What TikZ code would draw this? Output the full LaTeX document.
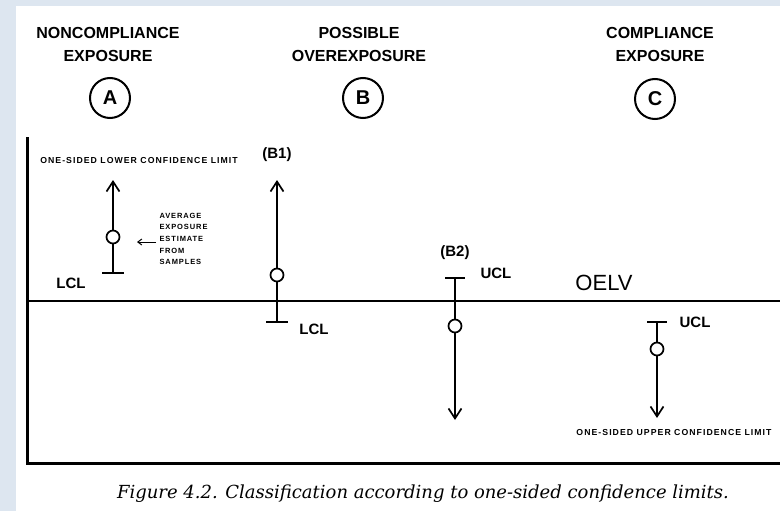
\documentclass[tikz,border=0pt]{standalone}
\usepackage{fontspec}
\newfontfamily\labfont{Liberation Sans}
\newfontfamily\notefont[LetterSpace=12]{Liberation Sans}
\newfontfamily\capfont{DejaVu Serif}
\usetikzlibrary{arrows.meta}
\definecolor{pageblue}{RGB}{221,230,240}

\begin{document}
\begin{tikzpicture}[x=1pt, y=-1pt,
  head/.style={font=\labfont\bfseries\fontsize{16}{23}\selectfont, align=center},
  tag/.style={circle, draw, line width=2pt, minimum size=40pt, inner sep=0pt,
    font=\labfont\bfseries\fontsize{20}{20}\selectfont},
  est/.style={circle, draw, line width=1.7pt, minimum size=13pt, inner sep=0pt, fill=white},
  lim/.style={font=\labfont\bfseries\fontsize{15}{15}\selectfont},
  note/.style={font=\notefont\bfseries\fontsize{7.5}{11.7}\selectfont, align=left},
  side/.style={font=\notefont\bfseries\fontsize{8.7}{10}\selectfont},
  ci/.style={line width=1.7pt},
  arr/.style={ci, -{Straight Barb[length=10pt, width=13pt, line width=1.7pt]}},
  bar/.style={line width=1.9pt}
]
% page and frame
\fill[pageblue] (0,0) rectangle (780,511);
\fill[white] (16,6) rectangle (780,511);
\useasboundingbox (0,0) rectangle (780,511);

% headings
\node[head] (headA) at (108,44) {NONCOMPLIANCE\\EXPOSURE};
\node[head] (headB) at (359,44) {POSSIBLE\\OVEREXPOSURE};
\node[head] (headC) at (660,44) {COMPLIANCE\\EXPOSURE};
\node[tag] (tagA) at (110,98) {A};
\node[tag] (tagB) at (363,98) {B};
\node[tag] (tagC) at (655,99) {C};

% axes and OELV line
\coordinate (axTop) at (27,137);
\coordinate (axCorner) at (27,463);
\coordinate (axEnd) at (780,463);
\coordinate (oelvL) at (27,301);
\coordinate (oelvR) at (780,301);
\draw[line width=3pt] (axTop) -- (axCorner) -- (axEnd);
\draw[line width=1.4pt] (oelvL) -- (oelvR);
\node[font=\labfont\fontsize{22}{22}\selectfont] (oelv) at (604,283) {OELV};

% A: noncompliance
\node[est] (estA) at (113,237) {};
\coordinate (topA) at (113,180);
\coordinate (lclA) at (113,273);
\draw[arr] (estA) -- (topA);
\draw[ci] (estA) -- (lclA);
\draw[bar] ([xshift=-11pt]lclA) -- ([xshift=11pt]lclA);
\node[lim] (lclAtxt) at (71,283) {LCL};
\node[side] (lowA) at (139,161) {ONE-SIDED LOWER CONFIDENCE LIMIT};
\node[note, anchor=west] (avg) at (156,239) {AVERAGE\\EXPOSURE\\ESTIMATE\\FROM\\SAMPLES};
\coordinate (ptr) at (137,242);
\draw[line width=1pt, -{Straight Barb[length=4pt, width=6pt]}] (avg.west |- ptr) -- (ptr);

% B1: possible overexposure
\node[lim] (b1) at (277,155) {(B1)};
\node[est] (estB1) at (277,275) {};
\coordinate (topB1) at (277,180);
\coordinate (lclB1) at (277,322);
\draw[arr] (estB1) -- (topB1);
\draw[ci] (estB1) -- (lclB1);
\draw[bar] ([xshift=-11pt]lclB1) -- ([xshift=11pt]lclB1);
\node[lim] (lclB1txt) at (314,329) {LCL};

% B2: possible overexposure
\node[lim] (b2) at (455,253) {(B2)};
\node[est] (estB2) at (455,326) {};
\coordinate (uclB2) at (455,278);
\coordinate (botB2) at (455,420);
\draw[ci] (estB2) -- (uclB2);
\draw[bar] ([xshift=-10pt]uclB2) -- ([xshift=10pt]uclB2);
\draw[arr] (estB2) -- (botB2);
\node[lim] (uclB2txt) at (496,273) {UCL};

% C: compliance
\node[est] (estC) at (657,349) {};
\coordinate (uclC) at (657,322);
\coordinate (botC) at (657,418);
\draw[ci] (estC) -- (uclC);
\draw[bar] ([xshift=-10pt]uclC) -- ([xshift=10pt]uclC);
\draw[arr] (estC) -- (botC);
\node[lim] (uclCtxt) at (695,322) {UCL};
\node[side] (upC) at (674,433) {ONE-SIDED UPPER CONFIDENCE LIMIT};

% caption
\node[font=\capfont\itshape\fontsize{18}{18}\selectfont] (caption) at (423,494)
  {Figure 4.2. Classification according to one-sided confidence limits.};
\end{tikzpicture}
\end{document}
